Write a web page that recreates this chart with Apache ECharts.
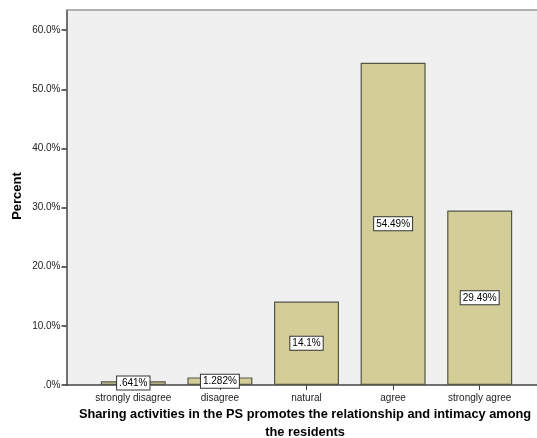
<!DOCTYPE html>
<html>
<head>
<meta charset="utf-8">
<script src="https://cdn.jsdelivr.net/npm/echarts@6/dist/echarts.min.js"></script>
<style>
  html, body { margin: 0; padding: 0; background: #ffffff; }
  #chart { width: 537px; height: 438px; }
</style>
</head>
<body>
<div id="chart"></div>
<script>
// Response categories and the share of residents giving each answer
const categories = ['strongly disagree', 'disagree', 'natural', 'agree', 'strongly agree'];
const percentValues = [0.641, 1.282, 14.1, 54.49, 29.49];
const valueLabels = ['.641%', '1.282%', '14.1%', '54.49%', '29.49%'];
const yTickLabels = ['.0%', '10.0%', '20.0%', '30.0%', '40.0%', '50.0%', '60.0%'];

const xTitle = 'Sharing activities in the PS promotes the relationship and intimacy among\nthe residents';
const yTitle = 'Percent';

const FONT = '"Liberation Sans", Arial, sans-serif';
const Y_MAX = 63.4;

const chart = echarts.init(document.getElementById('chart'), null, { renderer: 'canvas' });

chart.setOption({
  animation: false,
  backgroundColor: '#ffffff',
  graphic: [
    {
      type: 'text', silent: true,
      x: 305, y: 405,
      style: {
        text: xTitle, textAlign: 'center',
        font: 'bold 12.8px ' + FONT,
        fill: '#000', lineHeight: 18
      }
    },
    {
      type: 'text', silent: true,
      x: 17, y: 196, rotation: Math.PI / 2,
      style: {
        text: yTitle, textAlign: 'center', textVerticalAlign: 'middle',
        font: 'bold 13px ' + FONT,
        fill: '#000'
      }
    }
  ],
  grid: [
    // outer frame: shaded panel, value axis, baseline and top rule
    { left: 66.5, right: -10, top: 10, bottom: 53, show: true, backgroundColor: '#f0f0f0', borderWidth: 0, z: 0 },
    // inner band holding the category bars
    { left: 90, right: 14, top: 10, bottom: 53 }
  ],
  xAxis: [
    {
      gridIndex: 0, type: 'value', position: 'bottom', min: 0, max: 1,
      axisLine: { show: true, lineStyle: { color: '#444', width: 1.5 } },
      axisTick: { show: false }, axisLabel: { show: false }, splitLine: { show: false }
    },
    {
      gridIndex: 0, type: 'value', position: 'top', min: 0, max: 1,
      axisLine: { show: true, lineStyle: { color: '#9a9a9a', width: 1.5 } },
      axisTick: { show: false }, axisLabel: { show: false }, splitLine: { show: false }
    },
    {
      gridIndex: 1, type: 'category', data: categories,
      axisLine: { show: false },
      axisTick: { show: true, alignWithLabel: true, length: 5, lineStyle: { color: '#444', width: 1 } },
      axisLabel: { interval: 0, color: '#222', fontSize: 10, fontFamily: FONT, margin: 8 }
    }
  ],
  yAxis: [
    {
      gridIndex: 0, type: 'value', min: 0, max: Y_MAX, interval: 10,
      axisLine: { show: true, lineStyle: { color: '#444', width: 1.5 } },
      axisTick: { show: true, length: 5, lineStyle: { color: '#333', width: 1.5 } },
      splitLine: { show: false },
      axisLabel: {
        color: '#222', fontSize: 10, fontFamily: FONT, margin: 6,
        showMaxLabel: false,
        formatter: function (v) {
          const i = Math.round(v / 10);
          return Math.abs(v - i * 10) < 1e-6 ? yTickLabels[i] : '';
        }
      }
    },
    {
      gridIndex: 1, type: 'value', min: 0, max: Y_MAX, interval: 10,
      show: false
    }
  ],
  series: [
    {
      type: 'bar',
      xAxisIndex: 2,
      yAxisIndex: 1,
      z: 3,
      data: percentValues,
      barWidth: 65,
      itemStyle: { color: '#d3ce98', borderColor: '#555548', borderWidth: 1.2 },
      label: {
        show: true,
        position: 'inside',
        formatter: function (p) { return valueLabels[p.dataIndex]; },
        color: '#000',
        fontSize: 10,
        fontFamily: FONT,
        backgroundColor: '#ffffff',
        borderColor: '#333',
        borderWidth: 1,
        padding: [2, 2, 1, 2]
      }
    }
  ]
});
</script>
</body>
</html>
